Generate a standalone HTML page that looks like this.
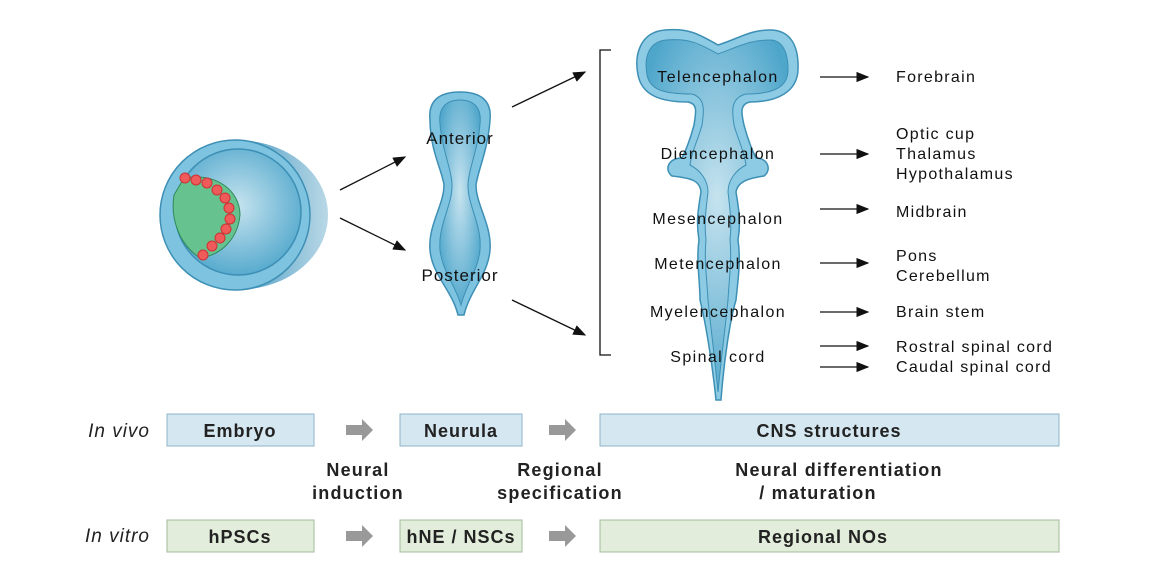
<!DOCTYPE html>
<html><head><meta charset="utf-8"><style>
body{margin:0;background:#fff;}
svg{display:block;font-family:"Liberation Sans",sans-serif;}
</style></head><body>
<svg width="1160" height="580" viewBox="0 0 1160 580">
<defs>
<marker id="ah" markerWidth="10" markerHeight="8" refX="9" refY="4" orient="auto"><path d="M0,0 L10,4 L0,8 Z" fill="#111"/></marker>
<radialGradient id="bg1" cx="50%" cy="45%" r="60%"><stop offset="0" stop-color="#c6e3ef"/><stop offset="1" stop-color="#4ea6cb"/></radialGradient>
<linearGradient id="side" x1="0" x2="1"><stop offset="0" stop-color="#4a9cc4"/><stop offset="1" stop-color="#b9d8e6"/></linearGradient>
</defs>

<g>
<path d="M235,140 C290,140 328,175 328,215 C328,255 290,290 235,290 Z" fill="url(#side)"/>
<circle cx="235" cy="215" r="75" fill="#7ec3df" stroke="#3d8fb5" stroke-width="1.5"/>
<circle cx="238" cy="212" r="63" fill="url(#bg1)" stroke="#3d8fb5" stroke-width="1.5"/>
<path d="M184,178 C215,172 240,190 240,215 C238,238 222,255 200,258 C180,245 170,220 174,195 Z" fill="#66c28e" stroke="#2f8a5a"/>
<g fill="#ef5b5b" stroke="#c33">
<circle cx="185" cy="178" r="5"/><circle cx="196" cy="180" r="5"/><circle cx="207" cy="183" r="5"/><circle cx="217" cy="190" r="5"/><circle cx="225" cy="198" r="5"/><circle cx="229" cy="208" r="5"/><circle cx="230" cy="219" r="5"/><circle cx="226" cy="229" r="5"/><circle cx="220" cy="238" r="5"/><circle cx="212" cy="246" r="5"/><circle cx="203" cy="255" r="5"/>
</g></g>
<line x1="340" y1="190" x2="405" y2="157" stroke="#111" stroke-width="1.3" marker-end="url(#ah)"/>
<line x1="340" y1="218" x2="405" y2="250" stroke="#111" stroke-width="1.3" marker-end="url(#ah)"/>

<g>
<path d="M460,92 C480,92 492,100 490,120 C488,150 478,170 476,185 C476,205 492,225 490,250 C488,275 470,290 464,315 L458,315 C452,290 432,275 430,250 C428,225 444,205 444,185 C442,170 430,150 430,120 C428,100 440,92 460,92 Z" fill="#7ec3df" stroke="#3d8fb5" stroke-width="1.5"/>
<path d="M460,100 C474,100 482,108 480,124 C478,150 468,170 468,186 C468,206 482,225 480,250 C478,270 466,285 461,305 C455,285 442,270 440,250 C438,225 452,206 452,186 C452,170 442,150 440,124 C438,108 446,100 460,100 Z" fill="url(#bg1)" stroke="#3d8fb5"/>
<text x="460" y="144" font-size="17" letter-spacing="1" text-anchor="middle" fill="#111">Anterior</text>
<text x="460" y="281" font-size="17" letter-spacing="1" text-anchor="middle" fill="#111">Posterior</text>
</g>
<line x1="512" y1="107" x2="585" y2="72" stroke="#111" stroke-width="1.3" marker-end="url(#ah)"/>
<line x1="512" y1="300" x2="585" y2="335" stroke="#111" stroke-width="1.3" marker-end="url(#ah)"/>
<path d="M611,50 L600,50 L600,355 L611,355" fill="none" stroke="#111" stroke-width="1.3"/>

<g>
<path d="M718,45 C700,35 690,28 665,30 C640,32 634,55 638,75 C642,95 660,102 688,102 C698,104 696,112 694,125 C690,140 686,150 682,158 C668,158 664,170 672,176 C690,178 700,180 701,192 C698,210 696,222 699,240 C696,260 700,280 700,300 C705,320 712,360 716,400 L721,400 C724,360 730,320 736,300 C738,280 741,260 738,240 C741,222 739,210 736,192 C738,180 752,178 764,176 C772,170 768,158 756,158 C752,150 748,140 744,125 C741,112 740,104 750,102 C777,102 797,92 798,70 C799,45 790,30 770,30 C750,30 740,38 718,45 Z" fill="#8ccbe3" stroke="#3d8fb5" stroke-width="1.5"/>
<path d="M718,54 C700,44 690,38 666,40 C648,42 644,58 647,75 C650,90 664,94 692,94 C706,98 704,112 702,125 C698,140 692,150 690,165 C700,170 708,180 708,192 C706,210 704,222 706,240 C704,260 707,280 708,300 C711,330 715,360 718,392 C721,360 725,330 728,300 C729,280 732,260 730,240 C732,222 730,210 728,192 C728,180 736,170 746,165 C744,150 738,140 734,125 C732,112 730,98 746,94 C772,94 788,88 788,70 C788,48 780,40 770,40 C750,40 740,46 718,54 Z" fill="url(#bg1)" stroke="#3d8fb5"/>
</g>
<g font-size="16" letter-spacing="1.4" fill="#111" text-anchor="middle">
<text x="718" y="82">Telencephalon</text>
<text x="718" y="159">Diencephalon</text>
<text x="718" y="224">Mesencephalon</text>
<text x="718" y="269">Metencephalon</text>
<text x="718" y="317">Myelencephalon</text>
<text x="718" y="362">Spinal cord</text>
</g>
<g stroke="#111" stroke-width="1.3">
<line x1="820" y1="77" x2="868" y2="77" marker-end="url(#ah)"/>
<line x1="820" y1="154" x2="868" y2="154" marker-end="url(#ah)"/>
<line x1="820" y1="209" x2="868" y2="209" marker-end="url(#ah)"/>
<line x1="820" y1="263" x2="868" y2="263" marker-end="url(#ah)"/>
<line x1="820" y1="312" x2="868" y2="312" marker-end="url(#ah)"/>
<line x1="820" y1="346" x2="868" y2="346" marker-end="url(#ah)"/>
<line x1="820" y1="367" x2="868" y2="367" marker-end="url(#ah)"/>
</g>
<g font-size="16" letter-spacing="1.3" fill="#111">
<text x="896" y="82">Forebrain</text>
<text x="896" y="139">Optic cup</text>
<text x="896" y="159">Thalamus</text>
<text x="896" y="179">Hypothalamus</text>
<text x="896" y="217">Midbrain</text>
<text x="896" y="261">Pons</text>
<text x="896" y="281">Cerebellum</text>
<text x="896" y="317">Brain stem</text>
<text x="896" y="352">Rostral spinal cord</text>
<text x="896" y="372">Caudal spinal cord</text>
</g>

<text x="150" y="437" font-size="19" letter-spacing="1" font-style="italic" text-anchor="end" fill="#222">In vivo</text>
<g fill="#d5e7f1" stroke="#8fb3c7" stroke-width="1">
<rect x="167" y="414" width="147" height="32"/>
<rect x="400" y="414" width="122" height="32"/>
<rect x="600" y="414" width="459" height="32"/>
</g>
<g font-size="18" letter-spacing="1" font-weight="bold" text-anchor="middle" fill="#222">
<text x="240" y="437">Embryo</text><text x="461" y="437">Neurula</text><text x="829" y="437">CNS structures</text>
</g>
<text x="150" y="542" font-size="19" letter-spacing="1" font-style="italic" text-anchor="end" fill="#222">In vitro</text>
<g fill="#e2eddb" stroke="#a3bb98" stroke-width="1">
<rect x="167" y="520" width="147" height="32"/>
<rect x="400" y="520" width="122" height="32"/>
<rect x="600" y="520" width="459" height="32"/>
</g>
<g font-size="18" letter-spacing="1" font-weight="bold" text-anchor="middle" fill="#222">
<text x="240" y="543">hPSCs</text><text x="461" y="543">hNE / NSCs</text><text x="823" y="543">Regional NOs</text>
</g>
<g fill="#999">
<path d="M346,425 L362,425 L362,419 L373,430 L362,441 L362,435 L346,435 Z"/>
<path d="M549,425 L565,425 L565,419 L576,430 L565,441 L565,435 L549,435 Z"/>
<path d="M346,531 L362,531 L362,525 L373,536 L362,547 L362,541 L346,541 Z"/>
<path d="M549,531 L565,531 L565,525 L576,536 L565,547 L565,541 L549,541 Z"/>
</g>
<g font-size="18" letter-spacing="1.2" font-weight="bold" text-anchor="middle" fill="#222">
<text x="358" y="476">Neural</text><text x="358" y="499">induction</text>
<text x="560" y="476">Regional</text><text x="560" y="499">specification</text>
<text x="839" y="476">Neural differentiation</text><text x="818" y="499">/ maturation</text>
</g>
</svg>
</body></html>
